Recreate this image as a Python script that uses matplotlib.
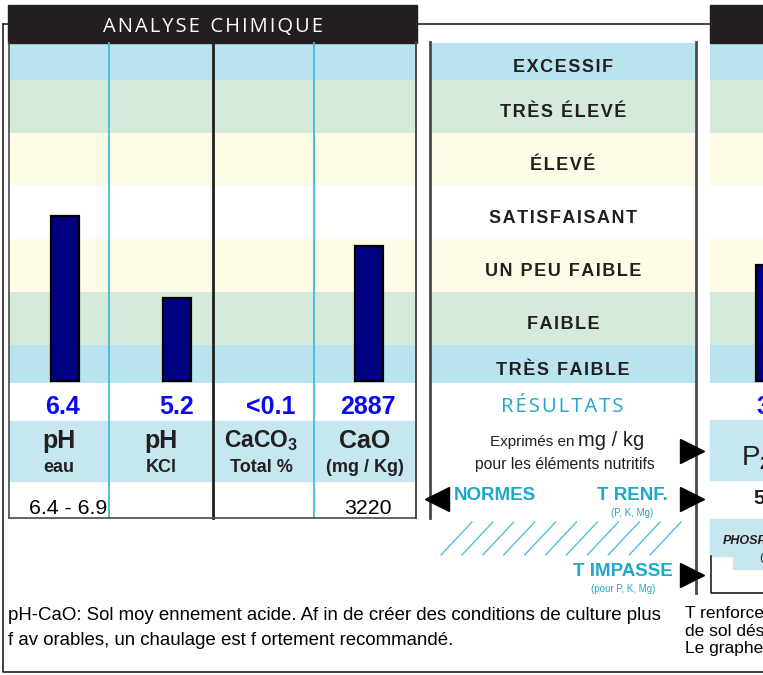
import numpy as np
import matplotlib.pyplot as plt
from matplotlib.patches import Rectangle
from matplotlib import transforms

W, H = 763, 675

# interpretation scale, from bottom to top
levels = ["TRÈS FAIBLE", "FAIBLE", "UN PEU FAIBLE", "SATISFAISANT",
          "ÉLEVÉ", "TRÈS ÉLEVÉ", "EXCESSIF"]
level_span = [0.72, 1, 1, 1, 1, 1, 0.70]
level_colors = ["#b9e3ef", "#d5eadb", "#fefce6", "#ffffff",
                "#fefce6", "#d5eadb", "#b9e3ef"]

# chemical analysis
params = ["pH", "pH", "CaCO$_3$", "CaO"]
param_sub = ["eau", "KCl", "Total %", "(mg / Kg)"]
results = ["6.4", "5.2", "<0.1", "2887"]
scores = [3.15, 1.60, 0.0, 2.58]
norms = ["6.4 - 6.9", "", "", "3220"]

# next panel (phosphore), only its left edge shows
p_result = "3"
p_score = 2.23
p_norm = "5"

comment = ("pH-CaO: Sol moy ennement acide. Af in de créer des conditions de culture plus\n"
           "f av orables, un chaulage est f ortement recommandé.")
comment_right = ["T renforce", "de sol dés", "Le graphe"]

plt.rcParams["font.family"] = ["Liberation Sans", "DejaVu Sans"]
plt.rcParams["mathtext.fontset"] = "custom"
plt.rcParams["mathtext.rm"] = "Liberation Sans:bold"
plt.rcParams["mathtext.it"] = "Liberation Sans:bold:italic"
plt.rcParams["mathtext.bf"] = "Liberation Sans:bold"

DARK = "#231f20"
GREY = "#4a4a4a"
CYAN = "#40bcd9"
CYAN_TXT = "#1ba8cc"
BLUE_TXT = "#0a0af0"
NAVY = "#000080"
LABEL_BG = "#c6e6f0"
HAIR = "\u200a"


def spaced(s):
    # open tracking with hair spaces between letters
    return HAIR.join(s)


fig = plt.figure(figsize=(W / 100, H / 100), dpi=100)


def px_axes(x0, y0, x1, y1, z):
    ax = fig.add_axes([x0 / W, 1 - y1 / H, (x1 - x0) / W, (y1 - y0) / H], zorder=z)
    ax.set_axis_off()
    return ax


top = sum(level_span)
edges = np.concatenate([[0], np.cumsum(level_span)])


def bands(ax):
    for lo, hi, c in zip(edges[:-1], edges[1:], level_colors):
        ax.axhspan(lo, hi, color=c, lw=0)
    ax.set_ylim(0, top)


# left panel: bars
ax_l = px_axes(9, 43, 416, 383, 1)
bands(ax_l)
ax_l.set_xlim(0, 4)
bar_shift = np.array([0.05, 0.15, 0.0, 0.04])
bar_base = 0.04
sc = np.array(scores)
has_bar = sc > 0
bx = np.arange(4) + 0.5 + bar_shift
ax_l.bar(bx[has_bar], sc[has_bar] - bar_base, bottom=bar_base, width=0.275,
         color=NAVY, edgecolor="black", linewidth=1.6)

# middle panel: level names
ax_m = px_axes(431, 43, 695, 383, 1)
bands(ax_m)
ax_m.set_xlim(0, 1)
lab_tr = transforms.offset_copy(ax_m.get_yaxis_transform(), fig=fig, y=-7.8, units="points")
mids = (edges[:-1] + edges[1:]) / 2
for name, m in zip(levels, mids):
    ax_m.text(0.5, m, spaced(name), transform=lab_tr, ha="center", va="baseline",
              fontsize=13, fontweight="bold", color=DARK)

# right panel (cut by the page edge)
ax_r = px_axes(710, 43, 763, 383, 1)
bands(ax_r)
ax_r.set_xlim(0, 53 / 101.75)
ax_r.bar([0.59], [p_score - bar_base], bottom=bar_base, width=0.275,
         color=NAVY, edgecolor="black", linewidth=1.6)

# overlay for frames, headers and text
ov = px_axes(0, 0, W, H, 5)
ov.set_xlim(0, W)
ov.set_ylim(H, 0)

# page frame
ov.plot([3, 3, 763], [24, 672, 672], color=DARK, lw=1.2, zorder=1)
ov.plot([3, 710], [24, 24], color=DARK, lw=1.2, zorder=1)

# headers
ov.add_patch(Rectangle((8, 5), 409, 38, color=DARK, zorder=2))
ov.add_patch(Rectangle((710, 5), 60, 38, color=DARK, zorder=2))
ov.text(213, 27, spaced("ANALYSE") + "  " + spaced("CHIMIQUE"),
        ha="center", va="center", color="white", fontsize=14.5,
        family=["Open Sans", "DejaVu Sans"], zorder=3)

# label row and table
ov.add_patch(Rectangle((9, 421), 407, 60, color=LABEL_BG, zorder=1))
ov.add_patch(Rectangle((710, 420), 60, 60, color=LABEL_BG, zorder=1))
ov.add_patch(Rectangle((710, 519), 60, 37, color=LABEL_BG, zorder=1))
ov.add_patch(Rectangle((733, 556), 40, 13, color=LABEL_BG, zorder=1))

col_x = [9, 109, 213, 314, 416]
col_style = [(GREY, 1.2), (CYAN, 1.3), (DARK, 2.0), (CYAN, 1.3), (GREY, 1.4)]
for x, (c, w) in zip(col_x, col_style):
    ov.plot([x, x], [43, 518], color=c, lw=w, zorder=4)
ov.plot([9, 416], [518, 518], color=GREY, lw=1.2, zorder=4)

# middle panel borders
ov.plot([430, 430], [42, 518], color=GREY, lw=2.0, zorder=4)
ov.plot([696, 696], [42, 593], color=GREY, lw=2.0, zorder=4)

# right panel small box
ov.plot([711, 711, 763], [556, 593, 593], color=DARK, lw=1.2, zorder=4)

# column texts
col_c = [59, 161, 261, 365]
res_x = [62, 177, 271, 368]
param_size = [18, 18, 16.5, 18]
for i in range(4):
    ov.text(res_x[i], 407, results[i], ha="center", va="center", color=BLUE_TXT,
            fontsize=18, fontweight="bold", zorder=5)
    ov.text(col_c[i], 441, params[i], ha="center", va="center", color=DARK,
            fontsize=param_size[i], fontweight="bold", zorder=5)
    ov.text(col_c[i], 467, param_sub[i], ha="center", va="center", color=DARK,
            fontsize=13, fontweight="bold", zorder=5)
ov.text(68, 508, norms[0], ha="center", va="center", color="black", fontsize=15.3, zorder=5)
ov.text(368, 509, norms[3], ha="center", va="center", color="black", fontsize=15.3, zorder=5)

# middle panel texts
ov.text(562, 407, spaced("RÉSULTATS"), ha="center", va="center", color=CYAN_TXT,
        fontsize=14.6, family=["Open Sans", "DejaVu Sans"], zorder=5)
ov.text(574, 442, "Exprimés en", ha="right", va="center", color=DARK, fontsize=11, zorder=5)
ov.text(578, 441, "mg / kg", ha="left", va="center", color=DARK, fontsize=14.5, zorder=5)
ov.text(565, 465, "pour les éléments nutritifs", ha="center", va="center", color=DARK,
        fontsize=11.3, zorder=5)
ov.text(454, 495, "NORMES", ha="left", va="center", color=CYAN_TXT, fontsize=13.5,
        fontweight="bold", zorder=5)
ov.text(668, 496, "T RENF.", ha="right", va="center", color=CYAN_TXT, fontsize=13.5,
        fontweight="bold", zorder=5)
ov.text(632, 513, "(P, K, Mg)", ha="center", va="center", color=CYAN_TXT, fontsize=7, zorder=5)
ov.text(673, 572, "T IMPASSE", ha="right", va="center", color=CYAN_TXT, fontsize=13.5,
        fontweight="bold", zorder=5)
ov.text(623, 589, "(pour P, K, Mg)", ha="center", va="center", color=CYAN_TXT,
        fontsize=7, zorder=5)

# hatched zone between the two thresholds
for x0 in np.arange(11) * 20.9 + 441:
    ov.plot([x0, x0 + 31], [555, 522], color=CYAN, lw=0.9, zorder=3)

# arrow heads
ov.plot([437], [499], marker="<", ms=17, color="black", zorder=6)
ov.plot([692, 692, 692], [451, 499, 575], ls="none", marker=">", ms=17, color="black", zorder=6)

# right panel texts
ov.text(756, 407, p_result, ha="left", va="center", color=BLUE_TXT, fontsize=18,
        fontweight="bold", zorder=5)
ov.text(741, 458, "P$_2$", ha="left", va="center", color=DARK, fontsize=20, zorder=5)
ov.text(753, 499, p_norm, ha="left", va="center", color=DARK, fontsize=15,
        fontweight="bold", zorder=5)
ov.text(723, 541, "PHOSP", ha="left", va="center", color=DARK, fontsize=9,
        fontweight="bold", style="italic", zorder=5)
ov.text(759, 558, "(", ha="left", va="center", color=DARK, fontsize=8, zorder=5)

# comments
ov.text(8, 628, comment, ha="left", va="center", color="black", fontsize=13.4,
        linespacing=1.55, zorder=5)
for i, t in enumerate(comment_right):
    ov.text(685, 614 + 17.5 * i, t, ha="left", va="center", color="black", fontsize=12.5, zorder=5)

fig.savefig("out.png", dpi=100)
